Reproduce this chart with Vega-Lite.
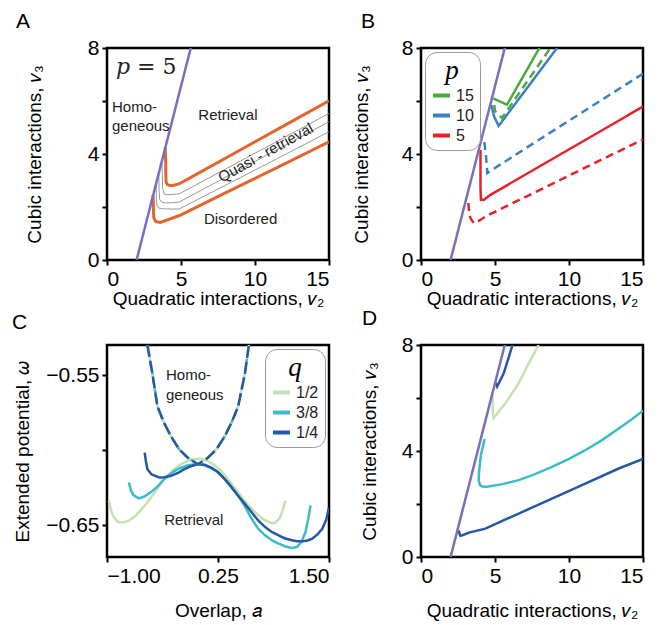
{
  "$schema": "https://vega.github.io/schema/vega-lite/v6.json",
  "background": "white",
  "padding": {"left": 10, "top": 9, "right": 2, "bottom": 0},
  "config": {
    "font": "Liberation Sans",
    "view": {"stroke": "black", "strokeWidth": 2.5},
    "axis": {"domain": false, "grid": false, "tickColor": "black", "tickWidth": 2, "tickSize": 5, "labelFontSize": 21, "labelColor": "black", "labelPadding": 3, "titleFontSize": 19, "titleFontWeight": "normal", "titleColor": "black"},
    "title": {"fontSize": 21, "fontWeight": "normal", "anchor": "start", "frame": "group", "color": "black"},
    "legend": {"symbolType": "stroke", "symbolStrokeWidth": 4, "symbolSize": 289, "labelFontSize": 16, "labelColor": "#222", "strokeColor": "#999", "cornerRadius": 12, "padding": 6, "fillColor": "white", "rowPadding": 1, "titleFont": "Liberation Serif", "titleFontStyle": "italic", "titleFontWeight": "normal", "titleFontSize": 27, "titleAnchor": "middle", "titlePadding": 0, "titleColor": "black"}
  },
  "datasets": {
    "hom": [{"v2": 2.0, "v3": 0}, {"v2": 5.66, "v3": 8}],
    "A": [
      {"s": "ret", "v2": 3.93, "v3": 4.25}, {"s": "ret", "v2": 3.96, "v3": 3.8}, {"s": "ret", "v2": 3.97, "v3": 3.3}, {"s": "ret", "v2": 3.99, "v3": 2.95}, {"s": "ret", "v2": 4.1, "v3": 2.83}, {"s": "ret", "v2": 4.4, "v3": 2.8}, {"s": "ret", "v2": 4.86, "v3": 2.87}, {"s": "ret", "v2": 6, "v3": 3.22}, {"s": "ret", "v2": 8, "v3": 3.84}, {"s": "ret", "v2": 10, "v3": 4.46}, {"s": "ret", "v2": 12, "v3": 5.08}, {"s": "ret", "v2": 15, "v3": 6.01},
      {"s": "q1", "v2": 3.72, "v3": 3.75}, {"s": "q1", "v2": 3.74, "v3": 3.2}, {"s": "q1", "v2": 3.76, "v3": 2.7}, {"s": "q1", "v2": 3.85, "v3": 2.5}, {"s": "q1", "v2": 4.0, "v3": 2.46}, {"s": "q1", "v2": 4.86, "v3": 2.49}, {"s": "q1", "v2": 8, "v3": 3.43}, {"s": "q1", "v2": 12, "v3": 4.63}, {"s": "q1", "v2": 15, "v3": 5.53},
      {"s": "q2", "v2": 3.5, "v3": 3.25}, {"s": "q2", "v2": 3.52, "v3": 2.6}, {"s": "q2", "v2": 3.56, "v3": 2.28}, {"s": "q2", "v2": 3.7, "v3": 2.18}, {"s": "q2", "v2": 4.0, "v3": 2.15}, {"s": "q2", "v2": 4.86, "v3": 2.18}, {"s": "q2", "v2": 8, "v3": 3.12}, {"s": "q2", "v2": 12, "v3": 4.32}, {"s": "q2", "v2": 15, "v3": 5.22},
      {"s": "q3", "v2": 3.32, "v3": 2.85}, {"s": "q3", "v2": 3.34, "v3": 2.3}, {"s": "q3", "v2": 3.38, "v3": 2.05}, {"s": "q3", "v2": 3.5, "v3": 1.96}, {"s": "q3", "v2": 3.8, "v3": 1.93}, {"s": "q3", "v2": 4.86, "v3": 1.92}, {"s": "q3", "v2": 8, "v3": 2.82}, {"s": "q3", "v2": 12, "v3": 3.97}, {"s": "q3", "v2": 15, "v3": 4.84},
      {"s": "dis", "v2": 3.12, "v3": 2.45}, {"s": "dis", "v2": 3.13, "v3": 2.0}, {"s": "dis", "v2": 3.16, "v3": 1.6}, {"s": "dis", "v2": 3.3, "v3": 1.45}, {"s": "dis", "v2": 3.6, "v3": 1.42}, {"s": "dis", "v2": 4.86, "v3": 1.67}, {"s": "dis", "v2": 8, "v3": 2.53}, {"s": "dis", "v2": 12, "v3": 3.63}, {"s": "dis", "v2": 15, "v3": 4.46}
    ],
    "Atext": [
      {"t": "Homo-\ngeneous", "v2": 0.34, "v3": 5.79},
      {"t": "Retrieval", "v2": 6.17, "v3": 5.47},
      {"t": "Disordered", "v2": 6.55, "v3": 1.55}
    ],
    "Amath": [{"t": "𝑝 = 5", "v2": 0.61, "v3": 7.29}],
    "Aquasi": [{"t": "Quasi - retrieval", "v2": 10.72, "v3": 4.05}],
    "B": [
      {"p": "15", "st": "solid", "v2": 4.88, "v3": 6.1}, {"p": "15", "st": "solid", "v2": 5.81, "v3": 5.86}, {"p": "15", "st": "solid", "v2": 8.0, "v3": 8.0},
      {"p": "15", "st": "dashed", "v2": 4.95, "v3": 5.85}, {"p": "15", "st": "dashed", "v2": 5.0, "v3": 5.62}, {"p": "15", "st": "dashed", "v2": 5.47, "v3": 5.36}, {"p": "15", "st": "dashed", "v2": 8.74, "v3": 8.0},
      {"p": "10", "st": "solid", "v2": 4.75, "v3": 5.85}, {"p": "10", "st": "solid", "v2": 4.95, "v3": 5.4}, {"p": "10", "st": "solid", "v2": 5.25, "v3": 5.06}, {"p": "10", "st": "solid", "v2": 9.19, "v3": 8.0},
      {"p": "10", "st": "dashed", "v2": 4.28, "v3": 4.45}, {"p": "10", "st": "dashed", "v2": 4.38, "v3": 4.0}, {"p": "10", "st": "dashed", "v2": 4.45, "v3": 3.5}, {"p": "10", "st": "dashed", "v2": 4.48, "v3": 3.28}, {"p": "10", "st": "dashed", "v2": 4.8, "v3": 3.4}, {"p": "10", "st": "dashed", "v2": 7.95, "v3": 4.53}, {"p": "10", "st": "dashed", "v2": 15, "v3": 7.03},
      {"p": "5", "st": "solid", "v2": 4.02, "v3": 4.15}, {"p": "5", "st": "solid", "v2": 4.02, "v3": 3.5}, {"p": "5", "st": "solid", "v2": 4.02, "v3": 2.7}, {"p": "5", "st": "solid", "v2": 4.05, "v3": 2.27}, {"p": "5", "st": "solid", "v2": 4.24, "v3": 2.27}, {"p": "5", "st": "solid", "v2": 4.69, "v3": 2.46}, {"p": "5", "st": "solid", "v2": 11.1, "v3": 4.53}, {"p": "5", "st": "solid", "v2": 15, "v3": 5.79},
      {"p": "5", "st": "dashed", "v2": 3.2, "v3": 2.15}, {"p": "5", "st": "dashed", "v2": 3.25, "v3": 1.8}, {"p": "5", "st": "dashed", "v2": 3.34, "v3": 1.58}, {"p": "5", "st": "dashed", "v2": 3.56, "v3": 1.39}, {"p": "5", "st": "dashed", "v2": 4.01, "v3": 1.51}, {"p": "5", "st": "dashed", "v2": 4.35, "v3": 1.64}, {"p": "5", "st": "dashed", "v2": 14.7, "v3": 4.47}, {"p": "5", "st": "dashed", "v2": 15, "v3": 4.55}
    ],
    "C": [
      {"q": "1/2", "br": "ret", "a": -0.98, "w": -0.6335}, {"q": "1/2", "br": "ret", "a": -0.95, "w": -0.641}, {"q": "1/2", "br": "ret", "a": -0.924, "w": -0.6445}, {"q": "1/2", "br": "ret", "a": -0.88, "w": -0.6475}, {"q": "1/2", "br": "ret", "a": -0.83, "w": -0.6482}, {"q": "1/2", "br": "ret", "a": -0.76, "w": -0.647}, {"q": "1/2", "br": "ret", "a": -0.697, "w": -0.6445}, {"q": "1/2", "br": "ret", "a": -0.62, "w": -0.64}, {"q": "1/2", "br": "ret", "a": -0.545, "w": -0.6346}, {"q": "1/2", "br": "ret", "a": -0.45, "w": -0.627}, {"q": "1/2", "br": "ret", "a": -0.356, "w": -0.6192}, {"q": "1/2", "br": "ret", "a": -0.26, "w": -0.6135}, {"q": "1/2", "br": "ret", "a": -0.167, "w": -0.6093}, {"q": "1/2", "br": "ret", "a": -0.08, "w": -0.6068}, {"q": "1/2", "br": "ret", "a": 0.004, "w": -0.6056}, {"q": "1/2", "br": "ret", "a": 0.07, "w": -0.6058}, {"q": "1/2", "br": "ret", "a": 0.136, "w": -0.6071}, {"q": "1/2", "br": "ret", "a": 0.21, "w": -0.61}, {"q": "1/2", "br": "ret", "a": 0.288, "w": -0.6137}, {"q": "1/2", "br": "ret", "a": 0.38, "w": -0.6205}, {"q": "1/2", "br": "ret", "a": 0.477, "w": -0.628}, {"q": "1/2", "br": "ret", "a": 0.57, "w": -0.635}, {"q": "1/2", "br": "ret", "a": 0.667, "w": -0.6412}, {"q": "1/2", "br": "ret", "a": 0.75, "w": -0.6455}, {"q": "1/2", "br": "ret", "a": 0.818, "w": -0.6478}, {"q": "1/2", "br": "ret", "a": 0.86, "w": -0.6484}, {"q": "1/2", "br": "ret", "a": 0.894, "w": -0.6482}, {"q": "1/2", "br": "ret", "a": 0.925, "w": -0.6465}, {"q": "1/2", "br": "ret", "a": 0.95, "w": -0.6445}, {"q": "1/2", "br": "ret", "a": 0.98, "w": -0.6395}, {"q": "1/2", "br": "ret", "a": 1.008, "w": -0.6335},
      {"q": "3/8", "br": "ret", "a": -0.754, "w": -0.6214}, {"q": "3/8", "br": "ret", "a": -0.73, "w": -0.627}, {"q": "3/8", "br": "ret", "a": -0.7, "w": -0.63}, {"q": "3/8", "br": "ret", "a": -0.64, "w": -0.632}, {"q": "3/8", "br": "ret", "a": -0.58, "w": -0.6308}, {"q": "3/8", "br": "ret", "a": -0.508, "w": -0.628}, {"q": "3/8", "br": "ret", "a": -0.43, "w": -0.624}, {"q": "3/8", "br": "ret", "a": -0.356, "w": -0.6192}, {"q": "3/8", "br": "ret", "a": -0.28, "w": -0.6155}, {"q": "3/8", "br": "ret", "a": -0.205, "w": -0.6126}, {"q": "3/8", "br": "ret", "a": -0.11, "w": -0.6103}, {"q": "3/8", "br": "ret", "a": -0.015, "w": -0.6093}, {"q": "3/8", "br": "ret", "a": 0.05, "w": -0.6093}, {"q": "3/8", "br": "ret", "a": 0.1, "w": -0.61}, {"q": "3/8", "br": "ret", "a": 0.175, "w": -0.612}, {"q": "3/8", "br": "ret", "a": 0.25, "w": -0.6148}, {"q": "3/8", "br": "ret", "a": 0.36, "w": -0.621}, {"q": "3/8", "br": "ret", "a": 0.477, "w": -0.6302}, {"q": "3/8", "br": "ret", "a": 0.55, "w": -0.637}, {"q": "3/8", "br": "ret", "a": 0.629, "w": -0.6456}, {"q": "3/8", "br": "ret", "a": 0.7, "w": -0.652}, {"q": "3/8", "br": "ret", "a": 0.78, "w": -0.6566}, {"q": "3/8", "br": "ret", "a": 0.86, "w": -0.66}, {"q": "3/8", "br": "ret", "a": 0.932, "w": -0.6621}, {"q": "3/8", "br": "ret", "a": 1.01, "w": -0.664}, {"q": "3/8", "br": "ret", "a": 1.083, "w": -0.665}, {"q": "3/8", "br": "ret", "a": 1.14, "w": -0.6643}, {"q": "3/8", "br": "ret", "a": 1.19, "w": -0.661}, {"q": "3/8", "br": "ret", "a": 1.235, "w": -0.6544}, {"q": "3/8", "br": "ret", "a": 1.265, "w": -0.646}, {"q": "3/8", "br": "ret", "a": 1.292, "w": -0.6368},
      {"q": "1/4", "br": "ret", "a": -0.576, "w": -0.6016}, {"q": "1/4", "br": "ret", "a": -0.56, "w": -0.608}, {"q": "1/4", "br": "ret", "a": -0.545, "w": -0.6126}, {"q": "1/4", "br": "ret", "a": -0.5, "w": -0.616}, {"q": "1/4", "br": "ret", "a": -0.413, "w": -0.6181}, {"q": "1/4", "br": "ret", "a": -0.35, "w": -0.618}, {"q": "1/4", "br": "ret", "a": -0.28, "w": -0.617}, {"q": "1/4", "br": "ret", "a": -0.2, "w": -0.615}, {"q": "1/4", "br": "ret", "a": -0.129, "w": -0.6126}, {"q": "1/4", "br": "ret", "a": -0.05, "w": -0.6105}, {"q": "1/4", "br": "ret", "a": 0.023, "w": -0.6093}, {"q": "1/4", "br": "ret", "a": 0.1, "w": -0.6097}, {"q": "1/4", "br": "ret", "a": 0.174, "w": -0.6115}, {"q": "1/4", "br": "ret", "a": 0.25, "w": -0.6145}, {"q": "1/4", "br": "ret", "a": 0.326, "w": -0.6192}, {"q": "1/4", "br": "ret", "a": 0.4, "w": -0.6245}, {"q": "1/4", "br": "ret", "a": 0.477, "w": -0.6302}, {"q": "1/4", "br": "ret", "a": 0.55, "w": -0.6355}, {"q": "1/4", "br": "ret", "a": 0.629, "w": -0.6412}, {"q": "1/4", "br": "ret", "a": 0.7, "w": -0.6465}, {"q": "1/4", "br": "ret", "a": 0.78, "w": -0.6511}, {"q": "1/4", "br": "ret", "a": 0.86, "w": -0.6545}, {"q": "1/4", "br": "ret", "a": 0.932, "w": -0.6566}, {"q": "1/4", "br": "ret", "a": 1.0, "w": -0.6585}, {"q": "1/4", "br": "ret", "a": 1.083, "w": -0.6599}, {"q": "1/4", "br": "ret", "a": 1.14, "w": -0.6605}, {"q": "1/4", "br": "ret", "a": 1.197, "w": -0.6606}, {"q": "1/4", "br": "ret", "a": 1.26, "w": -0.66}, {"q": "1/4", "br": "ret", "a": 1.311, "w": -0.6588}, {"q": "1/4", "br": "ret", "a": 1.37, "w": -0.656}, {"q": "1/4", "br": "ret", "a": 1.424, "w": -0.6522}, {"q": "1/4", "br": "ret", "a": 1.47, "w": -0.646}, {"q": "1/4", "br": "ret", "a": 1.5, "w": -0.638},
      {"q": "1/2", "br": "hom", "a": -0.545, "w": -0.53}, {"q": "1/2", "br": "hom", "a": -0.489, "w": -0.549}, {"q": "1/2", "br": "hom", "a": -0.432, "w": -0.5709}, {"q": "1/2", "br": "hom", "a": -0.356, "w": -0.5819}, {"q": "1/2", "br": "hom", "a": -0.28, "w": -0.5907}, {"q": "1/2", "br": "hom", "a": -0.186, "w": -0.5995}, {"q": "1/2", "br": "hom", "a": -0.09, "w": -0.605}, {"q": "1/2", "br": "hom", "a": 0.023, "w": -0.6093}, {"q": "1/2", "br": "hom", "a": 0.136, "w": -0.605}, {"q": "1/2", "br": "hom", "a": 0.231, "w": -0.5995}, {"q": "1/2", "br": "hom", "a": 0.326, "w": -0.5907}, {"q": "1/2", "br": "hom", "a": 0.4, "w": -0.5819}, {"q": "1/2", "br": "hom", "a": 0.477, "w": -0.5709}, {"q": "1/2", "br": "hom", "a": 0.553, "w": -0.549}, {"q": "1/2", "br": "hom", "a": 0.598, "w": -0.53},
      {"q": "3/8", "br": "hom", "a": -0.545, "w": -0.53}, {"q": "3/8", "br": "hom", "a": -0.489, "w": -0.549}, {"q": "3/8", "br": "hom", "a": -0.432, "w": -0.5709}, {"q": "3/8", "br": "hom", "a": -0.356, "w": -0.5819}, {"q": "3/8", "br": "hom", "a": -0.28, "w": -0.5907}, {"q": "3/8", "br": "hom", "a": -0.186, "w": -0.5995}, {"q": "3/8", "br": "hom", "a": -0.09, "w": -0.605}, {"q": "3/8", "br": "hom", "a": 0.023, "w": -0.6093}, {"q": "3/8", "br": "hom", "a": 0.136, "w": -0.605}, {"q": "3/8", "br": "hom", "a": 0.231, "w": -0.5995}, {"q": "3/8", "br": "hom", "a": 0.326, "w": -0.5907}, {"q": "3/8", "br": "hom", "a": 0.4, "w": -0.5819}, {"q": "3/8", "br": "hom", "a": 0.477, "w": -0.5709}, {"q": "3/8", "br": "hom", "a": 0.553, "w": -0.549}, {"q": "3/8", "br": "hom", "a": 0.598, "w": -0.53},
      {"q": "1/4", "br": "hom", "a": -0.545, "w": -0.53}, {"q": "1/4", "br": "hom", "a": -0.489, "w": -0.549}, {"q": "1/4", "br": "hom", "a": -0.432, "w": -0.5709}, {"q": "1/4", "br": "hom", "a": -0.356, "w": -0.5819}, {"q": "1/4", "br": "hom", "a": -0.28, "w": -0.5907}, {"q": "1/4", "br": "hom", "a": -0.186, "w": -0.5995}, {"q": "1/4", "br": "hom", "a": -0.09, "w": -0.605}, {"q": "1/4", "br": "hom", "a": 0.023, "w": -0.6093}, {"q": "1/4", "br": "hom", "a": 0.136, "w": -0.605}, {"q": "1/4", "br": "hom", "a": 0.231, "w": -0.5995}, {"q": "1/4", "br": "hom", "a": 0.326, "w": -0.5907}, {"q": "1/4", "br": "hom", "a": 0.4, "w": -0.5819}, {"q": "1/4", "br": "hom", "a": 0.477, "w": -0.5709}, {"q": "1/4", "br": "hom", "a": 0.553, "w": -0.549}, {"q": "1/4", "br": "hom", "a": 0.598, "w": -0.53}
    ],
    "Ctext": [
      {"t": "Homo-\ngeneous", "a": -0.336, "w": -0.55},
      {"t": "Retrieval", "a": -0.356, "w": -0.6467}
    ],
    "D": [
      {"q": "1/2", "br": "a", "v2": 4.84, "v3": 6.1}, {"q": "1/2", "br": "a", "v2": 4.84, "v3": 5.6}, {"q": "1/2", "br": "a", "v2": 4.87, "v3": 5.3}, {"q": "1/2", "br": "a", "v2": 4.91, "v3": 5.23}, {"q": "1/2", "br": "a", "v2": 5.2, "v3": 5.45}, {"q": "1/2", "br": "a", "v2": 5.7, "v3": 5.8}, {"q": "1/2", "br": "a", "v2": 6.6, "v3": 6.55}, {"q": "1/2", "br": "a", "v2": 7.28, "v3": 7.31}, {"q": "1/2", "br": "a", "v2": 7.95, "v3": 8.0},
      {"q": "3/8", "br": "a", "v2": 4.3, "v3": 4.45}, {"q": "3/8", "br": "a", "v2": 4.05, "v3": 3.85}, {"q": "3/8", "br": "a", "v2": 3.92, "v3": 3.2}, {"q": "3/8", "br": "a", "v2": 3.9, "v3": 2.9}, {"q": "3/8", "br": "a", "v2": 3.98, "v3": 2.72}, {"q": "3/8", "br": "a", "v2": 4.2, "v3": 2.65}, {"q": "3/8", "br": "a", "v2": 4.46, "v3": 2.65}, {"q": "3/8", "br": "a", "v2": 5.5, "v3": 2.75}, {"q": "3/8", "br": "a", "v2": 6.6, "v3": 2.9}, {"q": "3/8", "br": "a", "v2": 7.7, "v3": 3.13}, {"q": "3/8", "br": "a", "v2": 8.85, "v3": 3.4}, {"q": "3/8", "br": "a", "v2": 10, "v3": 3.7}, {"q": "3/8", "br": "a", "v2": 11.1, "v3": 4.03}, {"q": "3/8", "br": "a", "v2": 12.2, "v3": 4.4}, {"q": "3/8", "br": "a", "v2": 13.36, "v3": 4.85}, {"q": "3/8", "br": "a", "v2": 14.2, "v3": 5.18}, {"q": "3/8", "br": "a", "v2": 15, "v3": 5.52},
      {"q": "1/4", "br": "a", "v2": 2.55, "v3": 1.0}, {"q": "1/4", "br": "a", "v2": 2.62, "v3": 0.85}, {"q": "1/4", "br": "a", "v2": 2.66, "v3": 0.8}, {"q": "1/4", "br": "a", "v2": 2.8, "v3": 0.82}, {"q": "1/4", "br": "a", "v2": 3.3, "v3": 0.93}, {"q": "1/4", "br": "a", "v2": 4.35, "v3": 1.07}, {"q": "1/4", "br": "a", "v2": 6.6, "v3": 1.64}, {"q": "1/4", "br": "a", "v2": 8.85, "v3": 2.2}, {"q": "1/4", "br": "a", "v2": 11.1, "v3": 2.77}, {"q": "1/4", "br": "a", "v2": 13.36, "v3": 3.34}, {"q": "1/4", "br": "a", "v2": 15, "v3": 3.7},
      {"q": "1/4", "br": "b", "v2": 5.0, "v3": 6.6}, {"q": "1/4", "br": "b", "v2": 5.14, "v3": 6.43}, {"q": "1/4", "br": "b", "v2": 5.59, "v3": 6.93}, {"q": "1/4", "br": "b", "v2": 6.15, "v3": 7.94}, {"q": "1/4", "br": "b", "v2": 6.2, "v3": 8.0}
    ]
  },
  "resolve": {"scale": {"color": "independent", "strokeDash": "independent", "x": "independent", "y": "independent"}, "legend": {"color": "independent"}},
  "spacing": -4,
  "vconcat": [
    {
      "bounds": "flush",
      "spacing": 92,
      "resolve": {"scale": {"color": "independent", "strokeDash": "independent", "x": "independent", "y": "independent"}, "legend": {"color": "independent"}},
      "hconcat": [
        {
          "title": {"text": "A", "dx": -91, "offset": 5},
          "width": 222, "height": 212,
          "layer": [
            {
              "data": {"name": "A"},
              "transform": [{"filter": "datum.s == 'q1' || datum.s == 'q2' || datum.s == 'q3'"}],
              "mark": {"type": "line", "clip": true, "color": "#999999", "strokeWidth": 1},
              "encoding": {
                "x": {"field": "v2", "type": "quantitative", "scale": {"domain": [0, 15], "nice": false}, "axis": {"title": "Quadratic interactions, 𝑣₂", "values": [0, 5, 10, 15], "titlePadding": 0}},
                "y": {"field": "v3", "type": "quantitative", "scale": {"domain": [0, 8], "nice": false}, "axis": {"title": "Cubic interactions, 𝑣₃", "values": [0, 2, 4, 6, 8], "labelExpr": "datum.value % 4 == 0 ? datum.label : ''", "titlePadding": 43}},
                "detail": {"field": "s"},
                "order": {"value": null}
              }
            },
            {
              "data": {"name": "A"},
              "transform": [{"filter": "datum.s == 'ret' || datum.s == 'dis'"}],
              "mark": {"type": "line", "clip": true, "color": "#e2662b", "strokeWidth": 3},
              "encoding": {
                "x": {"field": "v2", "type": "quantitative"},
                "y": {"field": "v3", "type": "quantitative"},
                "detail": {"field": "s"},
                "order": {"value": null}
              }
            },
            {
              "data": {"name": "hom"},
              "mark": {"type": "line", "color": "#7a6fbf", "strokeWidth": 2.5, "clip": true},
              "encoding": {"x": {"field": "v2", "type": "quantitative"}, "y": {"field": "v3", "type": "quantitative"}}
            },
            {
              "data": {"name": "Atext"},
              "mark": {"type": "text", "align": "left", "baseline": "middle", "fontSize": 15, "color": "#222", "lineBreak": "\n", "lineHeight": 19},
              "encoding": {"x": {"field": "v2", "type": "quantitative"}, "y": {"field": "v3", "type": "quantitative"}, "text": {"field": "t"}}
            },
            {
              "data": {"name": "Amath"},
              "mark": {"type": "text", "align": "left", "baseline": "middle", "fontSize": 22, "font": "DejaVu Serif", "color": "#222"},
              "encoding": {"x": {"field": "v2", "type": "quantitative"}, "y": {"field": "v3", "type": "quantitative"}, "text": {"field": "t"}}
            },
            {
              "data": {"name": "Aquasi"},
              "mark": {"type": "text", "align": "center", "baseline": "middle", "fontSize": 15, "color": "#222", "angle": 331},
              "encoding": {"x": {"field": "v2", "type": "quantitative"}, "y": {"field": "v3", "type": "quantitative"}, "text": {"field": "t"}}
            }
          ]
        },
        {
          "title": {"text": "B", "dx": -60, "offset": 5},
          "width": 222, "height": 212,
          "layer": [
            {
              "data": {"name": "B"},
              "mark": {"type": "line", "strokeWidth": 2.5, "clip": true},
              "encoding": {
                "x": {"field": "v2", "type": "quantitative", "scale": {"domain": [0, 15], "nice": false}, "axis": {"title": "Quadratic interactions, 𝑣₂", "values": [0, 5, 10, 15], "titlePadding": 0}},
                "y": {"field": "v3", "type": "quantitative", "scale": {"domain": [0, 8], "nice": false}, "axis": {"title": "Cubic interactions, 𝑣₃", "values": [0, 2, 4, 6, 8], "labelExpr": "datum.value % 4 == 0 ? datum.label : ''", "titlePadding": 30}},
                "color": {"field": "p", "type": "nominal", "scale": {"domain": ["15", "10", "5"], "range": ["#4aaa3f", "#3b80c3", "#e8212a"]}, "legend": {"title": "p", "orient": "top-left", "offset": 4}},
                "strokeDash": {"field": "st", "type": "nominal", "scale": {"domain": ["solid", "dashed"], "range": [[1, 0], [8, 5]]}, "legend": null},
                "detail": {"field": "st"},
                "order": {"value": null}
              }
            },
            {
              "data": {"name": "hom"},
              "mark": {"type": "line", "color": "#7a6fbf", "strokeWidth": 2.5, "clip": true},
              "encoding": {"x": {"field": "v2", "type": "quantitative"}, "y": {"field": "v3", "type": "quantitative"}}
            }
          ]
        }
      ]
    },
    {
      "bounds": "flush",
      "spacing": 92,
      "resolve": {"scale": {"color": "independent", "strokeDash": "independent", "x": "independent", "y": "independent"}, "legend": {"color": "independent"}},
      "hconcat": [
        {
          "title": {"text": "C", "dx": -95, "offset": 12},
          "width": 222, "height": 212,
          "layer": [
            {
              "data": {"name": "C"},
              "transform": [{"filter": "datum.br == 'ret'"}],
              "mark": {"type": "line", "strokeWidth": 2.5, "clip": true},
              "encoding": {
                "x": {"field": "a", "type": "quantitative", "scale": {"domain": [-1, 1.5], "nice": false}, "axis": {"title": "Overlap, 𝑎", "values": [-1, 0.25, 1.5], "format": ".2f", "titlePadding": 15}},
                "y": {"field": "w", "type": "quantitative", "scale": {"domain": [-0.671, -0.53], "nice": false, "zero": false}, "axis": {"title": "Extended potential, 𝜔", "values": [-0.65, -0.6, -0.55], "labelExpr": "abs(datum.value + 0.6) < 0.001 ? '' : format(datum.value, '.2f')", "titlePadding": 13}},
                "color": {"field": "q", "type": "nominal", "scale": {"domain": ["1/2", "3/8", "1/4"], "range": ["#c3e2b1", "#3bbcc6", "#2557a7"]}, "legend": {"title": "q", "orient": "top-right", "offset": 4}},
                "order": {"value": null}
              }
            },
            {
              "data": {"name": "C"},
              "transform": [{"filter": "datum.br == 'hom' && datum.q == '1/2'"}],
              "mark": {"type": "line", "strokeWidth": 2.5, "clip": true, "color": "#c3e2b1"},
              "encoding": {"x": {"field": "a", "type": "quantitative"}, "y": {"field": "w", "type": "quantitative"}, "order": {"value": null}}
            },
            {
              "data": {"name": "C"},
              "transform": [{"filter": "datum.br == 'hom' && datum.q == '3/8'"}],
              "mark": {"type": "line", "strokeWidth": 2.5, "clip": true, "color": "#3bbcc6", "strokeDash": [3, 6]},
              "encoding": {"x": {"field": "a", "type": "quantitative"}, "y": {"field": "w", "type": "quantitative"}, "order": {"value": null}}
            },
            {
              "data": {"name": "C"},
              "transform": [{"filter": "datum.br == 'hom' && datum.q == '1/4'"}],
              "mark": {"type": "line", "strokeWidth": 2.5, "clip": true, "color": "#2557a7", "strokeDash": [12, 4]},
              "encoding": {"x": {"field": "a", "type": "quantitative"}, "y": {"field": "w", "type": "quantitative"}, "order": {"value": null}}
            },
            {
              "data": {"name": "Ctext"},
              "mark": {"type": "text", "align": "left", "baseline": "middle", "fontSize": 15, "color": "#222", "lineBreak": "\n", "lineHeight": 20},
              "encoding": {"x": {"field": "a", "type": "quantitative"}, "y": {"field": "w", "type": "quantitative"}, "text": {"field": "t"}}
            }
          ]
        },
        {
          "title": {"text": "D", "dx": -59, "offset": 5},
          "width": 222, "height": 212,
          "layer": [
            {
              "data": {"name": "D"},
              "mark": {"type": "line", "strokeWidth": 2.5, "clip": true},
              "encoding": {
                "x": {"field": "v2", "type": "quantitative", "scale": {"domain": [0, 15], "nice": false}, "axis": {"title": "Quadratic interactions, 𝑣₂", "values": [0, 5, 10, 15], "titlePadding": 15}},
                "y": {"field": "v3", "type": "quantitative", "scale": {"domain": [0, 8], "nice": false}, "axis": {"title": "Cubic interactions, 𝑣₃", "values": [0, 2, 4, 6, 8], "labelExpr": "datum.value % 4 == 0 ? datum.label : ''", "titlePadding": 22}},
                "color": {"field": "q", "type": "nominal", "scale": {"domain": ["1/2", "3/8", "1/4"], "range": ["#c3e2b1", "#3bbcc6", "#2557a7"]}, "legend": null},
                "detail": {"field": "br"},
                "order": {"value": null}
              }
            },
            {
              "data": {"name": "hom"},
              "mark": {"type": "line", "color": "#7a6fbf", "strokeWidth": 2.5, "clip": true},
              "encoding": {"x": {"field": "v2", "type": "quantitative"}, "y": {"field": "v3", "type": "quantitative"}}
            }
          ]
        }
      ]
    }
  ]
}
